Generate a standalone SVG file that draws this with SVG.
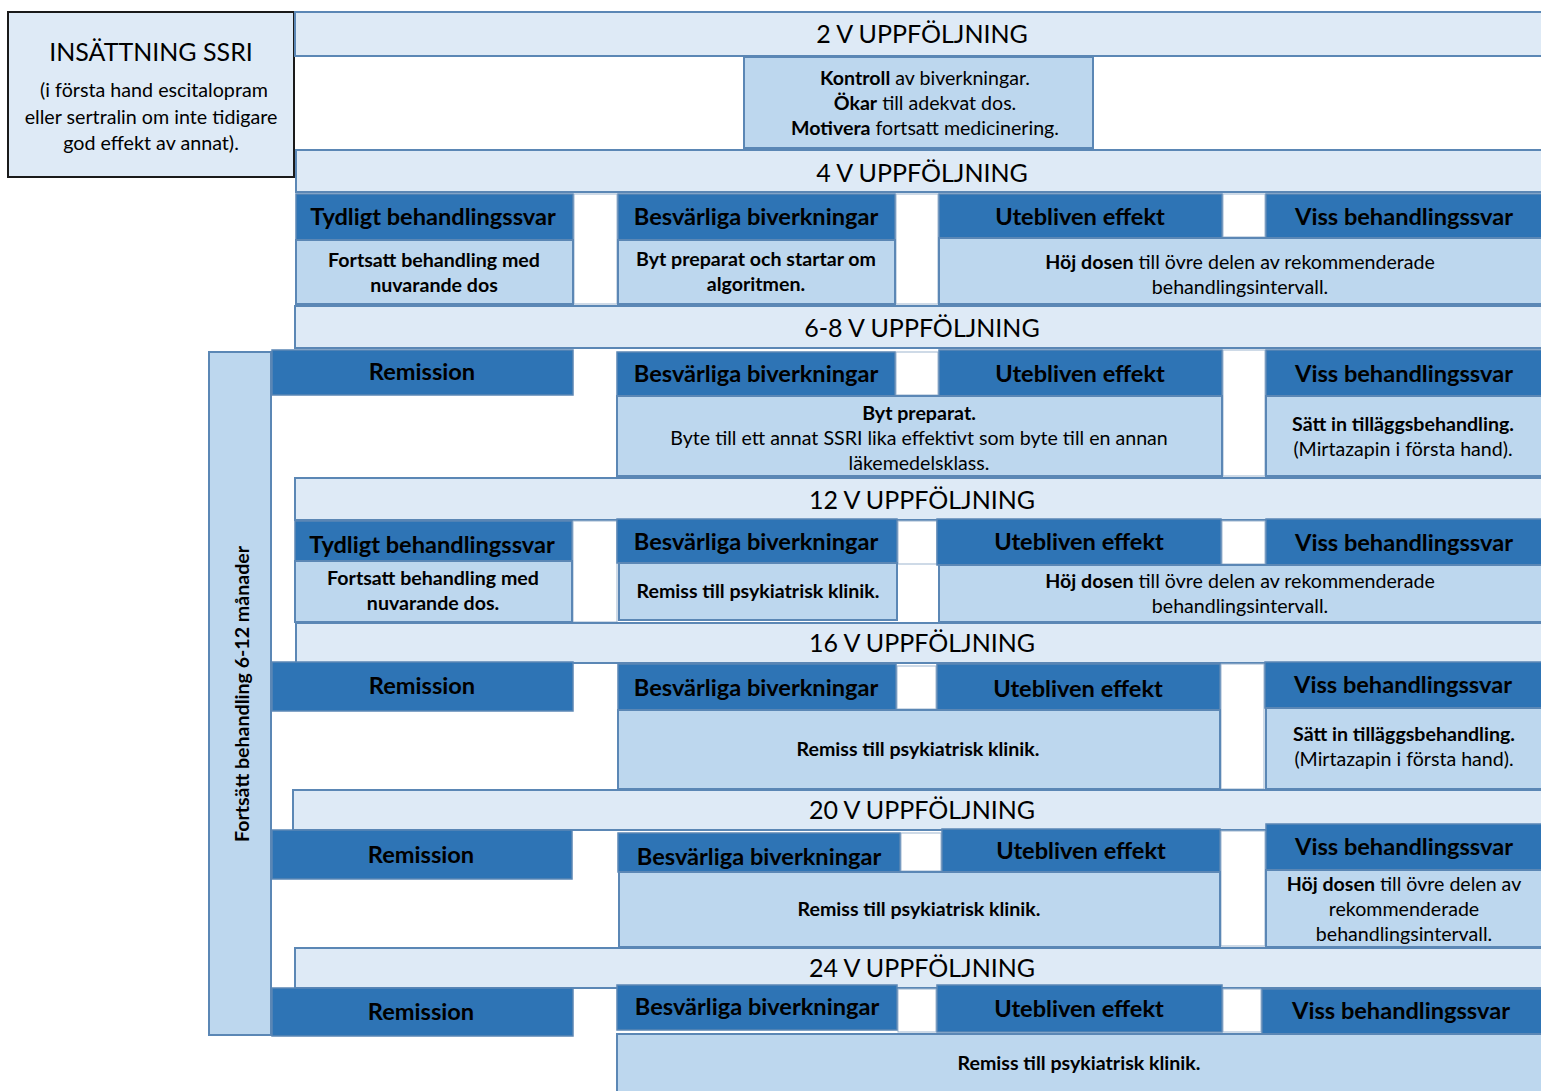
<svg xmlns="http://www.w3.org/2000/svg" width="1541" height="1091" viewBox="0 0 1541 1091">
<style>
text{font-family:Lato,"Open Sans","Liberation Sans",sans-serif;fill:#000;text-anchor:middle;dominant-baseline:central}
.band{fill:#DEEAF6;stroke:#5B87B5;stroke-width:2}
.dk{fill:#2E74B5;stroke:#5B87B5;stroke-width:1.5}
.lt{fill:#BDD7EE;stroke:#5B87B5;stroke-width:2}
.wh{fill:#FFFFFF;stroke:#9DB5CF;stroke-width:1}
.bt{font-size:25px}
.ht{font-size:23.6px;font-weight:bold}
.tx{font-size:19.6px}
.st{font-size:19.7px}
.b{font-weight:bold}
</style>
<rect width="1541" height="1091" fill="#FFFFFF"/>
<g id="connectors"></g>

<g id="start">
<rect x="8" y="12" width="286" height="165" fill="#DEEAF6" stroke="#1a1a1a" stroke-width="2"/>
<text x="151" y="51" font-size="25">INSÄTTNING SSRI</text>
<text class="st" x="154" y="89">(i första hand escitalopram</text>
<text class="st" x="151" y="116">eller sertralin om inte tidigare</text>
<text class="st" x="151" y="142">god effekt av annat).</text>
</g>

<!-- 2 V -->
<g id="v2">
<rect class="band" x="295" y="12" width="1250" height="44"/>
<text class="bt" x="922" y="33">2 V UPPFÖLJNING</text>
</g>
<g id="v2-action">
<rect class="lt" x="744" y="57" width="349" height="91"/>
<text class="tx" x="925" y="77"><tspan class="b">Kontroll</tspan> av biverkningar.</text>
<text class="tx" x="925" y="102"><tspan class="b">Ökar</tspan> till adekvat dos.</text>
<text class="tx" x="925" y="127"><tspan class="b">Motivera</tspan> fortsatt medicinering.</text>
</g>

<!-- 4 V -->
<g id="v4">
<rect class="band" x="296" y="150" width="1249" height="42"/>
<text class="bt" x="922" y="172">4 V UPPFÖLJNING</text>
</g>
<g id="v4-gaps">
<rect class="wh" x="574" y="194" width="43" height="110"/>
<rect class="wh" x="896" y="194" width="42" height="110"/>
<rect class="wh" x="1223" y="194" width="42" height="43"/>
</g>
<g id="v4-tydligt">
<rect class="dk" x="296" y="194" width="277" height="46"/>
<text class="ht" x="433" y="216">Tydligt behandlingssvar</text>
<rect class="lt" x="296" y="240" width="277" height="64"/>
<text class="tx b" x="434" y="259">Fortsatt behandling med</text>
<text class="tx b" x="434" y="284">nuvarande dos</text>
</g>
<g id="v4-besvar">
<rect class="dk" x="618" y="194" width="277" height="46"/>
<text class="ht" x="756" y="216">Besvärliga biverkningar</text>
<rect class="lt" x="618" y="240" width="277" height="64"/>
<text class="tx b" x="756" y="258">Byt preparat och startar om</text>
<text class="tx b" x="756" y="283">algoritmen.</text>
</g>
<g id="v4-uteb">
<rect class="dk" x="939" y="194" width="283" height="44"/>
<text class="ht" x="1080" y="216">Utebliven effekt</text>
</g>
<g id="v4-viss">
<rect class="dk" x="1266" y="194" width="279" height="44"/>
<text class="ht" x="1404" y="216">Viss behandlingssvar</text>
</g>
<g id="v4-hoj">
<rect class="lt" x="939" y="238" width="606" height="66"/>
<text class="tx" x="1240" y="261"><tspan class="b">Höj dosen</tspan> till övre delen av rekommenderade</text>
<text class="tx" x="1240" y="286">behandlingsintervall.</text>
</g>

<!-- continue -->
<g id="fortsatt">
<rect x="209" y="352" width="62" height="683" fill="#BDD7EE" stroke="#5B87B5" stroke-width="2"/>
<text class="tx b" transform="translate(241,694) rotate(-90)">Fortsätt behandling 6-12 månader</text>
</g>

<!-- 6-8 V -->
<g id="v68">
<rect class="band" x="295" y="306" width="1250" height="42"/>
<text class="bt" x="922" y="327">6-8 V UPPFÖLJNING</text>
</g>
<g id="v68-gaps">
<rect class="wh" x="896" y="352" width="42" height="43"/>
<rect class="wh" x="1223" y="350" width="42" height="126"/>
</g>
<g id="v68-remission">
<rect class="dk" x="272" y="350" width="301" height="45"/>
<text class="ht" x="422" y="371">Remission</text>
</g>
<g id="v68-besvar">
<rect class="dk" x="617" y="352" width="278" height="44"/>
<text class="ht" x="756" y="373">Besvärliga biverkningar</text>
</g>
<g id="v68-uteb">
<rect class="dk" x="939" y="350" width="283" height="46"/>
<text class="ht" x="1080" y="373">Utebliven effekt</text>
</g>
<g id="v68-byt">
<rect class="lt" x="617" y="396" width="605" height="80"/>
<text class="tx b" x="919" y="412">Byt preparat.</text>
<text class="tx" x="919" y="437">Byte till ett annat SSRI lika effektivt som byte till en annan</text>
<text class="tx" x="919" y="462">läkemedelsklass.</text>
</g>
<g id="v68-viss">
<rect class="dk" x="1266" y="350" width="279" height="46"/>
<text class="ht" x="1404" y="373">Viss behandlingssvar</text>
<rect class="lt" x="1266" y="396" width="279" height="80"/>
<text class="tx b" x="1403" y="423">Sätt in tilläggsbehandling.</text>
<text class="tx" x="1403" y="448">(Mirtazapin i första hand).</text>
</g>

<!-- 12 V -->
<g id="v12">
<rect class="band" x="295" y="478" width="1250" height="42"/>
<text class="bt" x="922" y="499">12 V UPPFÖLJNING</text>
</g>
<g id="v12-gaps">
<rect class="wh" x="573" y="521" width="44" height="101"/>
<rect class="wh" x="898" y="521" width="39" height="43"/>
<rect class="wh" x="1222" y="521" width="43" height="43"/>
</g>
<g id="v12-tydligt">
<rect class="dk" x="295" y="521" width="277" height="40"/>
<text class="ht" x="432" y="544">Tydligt behandlingssvar</text>
<rect class="lt" x="295" y="561" width="277" height="61"/>
<text class="tx b" x="433" y="577">Fortsatt behandling med</text>
<text class="tx b" x="433" y="602">nuvarande dos.</text>
</g>
<g id="v12-besvar">
<rect class="dk" x="617" y="519" width="280" height="44"/>
<text class="ht" x="756" y="541">Besvärliga biverkningar</text>
<rect class="lt" x="619" y="563" width="278" height="57"/>
<text class="tx b" x="758" y="590">Remiss till psykiatrisk klinik.</text>
</g>
<g id="v12-uteb">
<rect class="dk" x="937" y="519" width="284" height="46"/>
<text class="ht" x="1079" y="541">Utebliven effekt</text>
</g>
<g id="v12-viss">
<rect class="dk" x="1266" y="519" width="279" height="46"/>
<text class="ht" x="1404" y="542">Viss behandlingssvar</text>
</g>
<g id="v12-hoj">
<rect class="lt" x="939" y="565" width="606" height="57"/>
<text class="tx" x="1240" y="580"><tspan class="b">Höj dosen</tspan> till övre delen av rekommenderade</text>
<text class="tx" x="1240" y="605">behandlingsintervall.</text>
</g>

<!-- 16 V -->
<g id="v16">
<rect class="band" x="296" y="623" width="1249" height="40"/>
<text class="bt" x="922" y="642">16 V UPPFÖLJNING</text>
</g>
<g id="v16-gaps">
<rect class="wh" x="897" y="666" width="39" height="43"/>
<rect class="wh" x="1221" y="664" width="43" height="125"/>
</g>
<g id="v16-remission">
<rect class="dk" x="272" y="662" width="301" height="49"/>
<text class="ht" x="422" y="685">Remission</text>
</g>
<g id="v16-besvar">
<rect class="dk" x="618" y="664" width="278" height="46"/>
<text class="ht" x="756" y="687">Besvärliga biverkningar</text>
</g>
<g id="v16-uteb">
<rect class="dk" x="937" y="664" width="283" height="46"/>
<text class="ht" x="1078" y="688">Utebliven effekt</text>
</g>
<g id="v16-remiss">
<rect class="lt" x="618" y="710" width="602" height="79"/>
<text class="tx b" x="918" y="748">Remiss till psykiatrisk klinik.</text>
</g>
<g id="v16-viss">
<rect class="dk" x="1265" y="662" width="280" height="46"/>
<text class="ht" x="1403" y="684">Viss behandlingssvar</text>
<rect class="lt" x="1266" y="708" width="279" height="81"/>
<text class="tx b" x="1404" y="733">Sätt in tilläggsbehandling.</text>
<text class="tx" x="1404" y="758">(Mirtazapin i första hand).</text>
</g>

<!-- 20 V -->
<g id="v20">
<rect class="band" x="293" y="790" width="1252" height="40"/>
<text class="bt" x="922" y="809">20 V UPPFÖLJNING</text>
</g>
<g id="v20-gaps">
<rect class="wh" x="901" y="833" width="40" height="38"/>
<rect class="wh" x="1221" y="831" width="44" height="115"/>
</g>
<g id="v20-remission">
<rect class="dk" x="272" y="830" width="300" height="49"/>
<text class="ht" x="421" y="854">Remission</text>
</g>
<g id="v20-besvar">
<rect class="dk" x="618" y="833" width="282" height="39"/>
<text class="ht" x="759" y="856">Besvärliga biverkningar</text>
</g>
<g id="v20-uteb">
<rect class="dk" x="942" y="829" width="278" height="43"/>
<text class="ht" x="1081" y="850">Utebliven effekt</text>
</g>
<g id="v20-remiss">
<rect class="lt" x="619" y="872" width="601" height="75"/>
<text class="tx b" x="919" y="908">Remiss till psykiatrisk klinik.</text>
</g>
<g id="v20-viss">
<rect class="dk" x="1266" y="824" width="279" height="46"/>
<text class="ht" x="1404" y="846">Viss behandlingssvar</text>
<rect class="lt" x="1266" y="870" width="279" height="77"/>
<text class="tx" x="1404" y="883"><tspan class="b">Höj dosen</tspan> till övre delen av</text>
<text class="tx" x="1404" y="908">rekommenderade</text>
<text class="tx" x="1404" y="933">behandlingsintervall.</text>
</g>

<!-- 24 V -->
<g id="v24">
<rect class="band" x="295" y="948" width="1250" height="40"/>
<text class="bt" x="922" y="967">24 V UPPFÖLJNING</text>
</g>
<g id="v24-gaps">
<rect class="wh" x="898" y="989" width="38" height="43"/>
<rect class="wh" x="1223" y="989" width="38" height="43"/>
</g>
<g id="v24-remission">
<rect class="dk" x="272" y="988" width="301" height="48"/>
<text class="ht" x="421" y="1011">Remission</text>
</g>
<g id="v24-besvar">
<rect class="dk" x="617" y="985" width="280" height="45"/>
<text class="ht" x="757" y="1006">Besvärliga biverkningar</text>
</g>
<g id="v24-uteb">
<rect class="dk" x="937" y="985" width="285" height="47"/>
<text class="ht" x="1079" y="1008">Utebliven effekt</text>
</g>
<g id="v24-viss">
<rect class="dk" x="1262" y="989" width="283" height="45"/>
<text class="ht" x="1401" y="1010">Viss behandlingssvar</text>
</g>
<g id="v24-remiss">
<rect class="lt" x="617" y="1034" width="928" height="60"/>
<text class="tx b" x="1079" y="1062">Remiss till psykiatrisk klinik.</text>
</g>
</svg>
